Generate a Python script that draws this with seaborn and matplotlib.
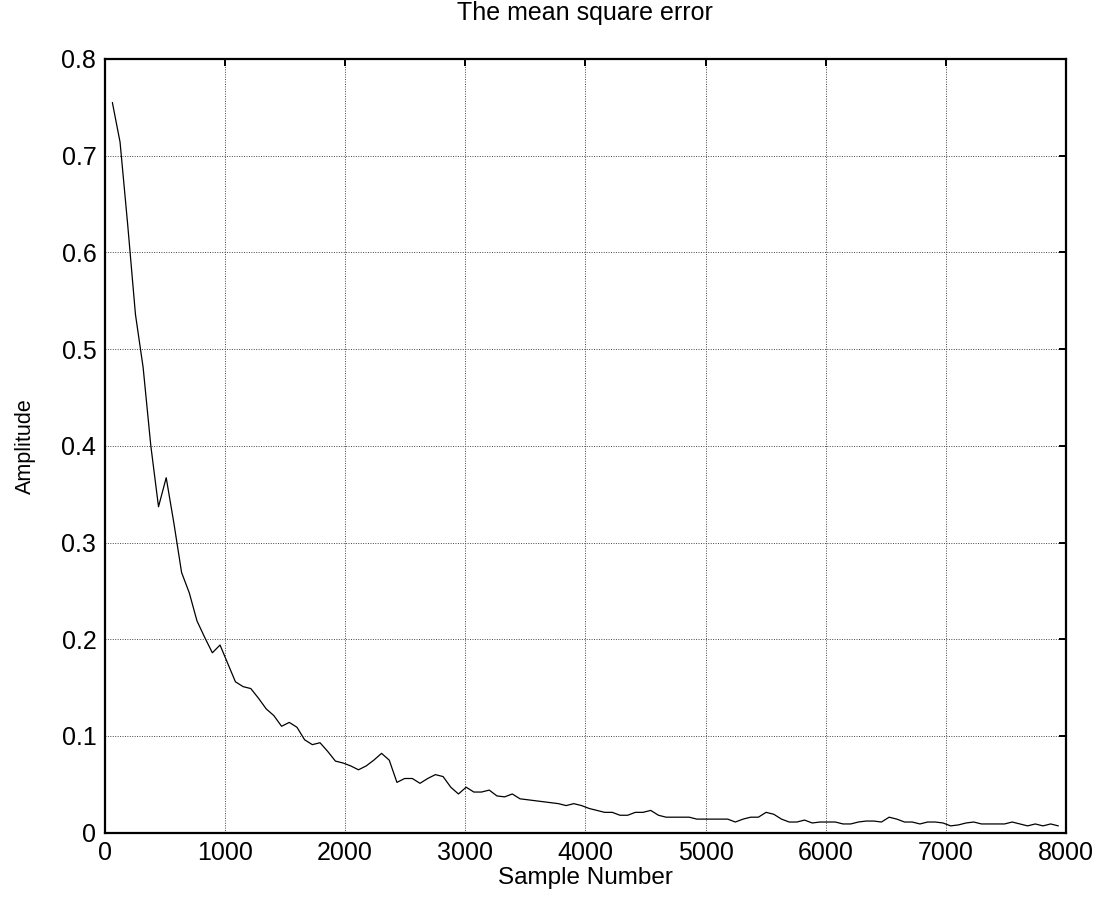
import matplotlib
matplotlib.use("Agg")
import matplotlib.pyplot as plt
import seaborn as sns
import pandas as pd

sample_step = 64
n_points = 124
sample_number = [sample_step * (i + 1) for i in range(n_points)]

mse = [
    0.755, 0.714, 0.628, 0.536, 0.481, 0.400, 0.337, 0.367, 0.320, 0.269,
    0.248, 0.219, 0.202, 0.186, 0.194, 0.175, 0.156, 0.151, 0.149, 0.139,
    0.128, 0.121, 0.110, 0.114, 0.109, 0.096, 0.091, 0.093, 0.084, 0.074,
    0.072, 0.069, 0.065, 0.069, 0.075, 0.082, 0.075, 0.052, 0.056, 0.056,
    0.051, 0.056, 0.060, 0.058, 0.047, 0.040, 0.047, 0.042, 0.042, 0.044,
    0.038, 0.037, 0.040, 0.035, 0.034, 0.033, 0.032, 0.031, 0.030, 0.028,
    0.030, 0.028, 0.025, 0.023, 0.021, 0.021, 0.018, 0.018, 0.021, 0.021,
    0.023, 0.018, 0.016, 0.016, 0.016, 0.016, 0.014, 0.014, 0.014, 0.014,
    0.014, 0.011, 0.014, 0.016, 0.016, 0.021, 0.019, 0.014, 0.011, 0.011,
    0.013, 0.010, 0.011, 0.011, 0.011, 0.009, 0.009, 0.011, 0.012, 0.012,
    0.011, 0.016, 0.014, 0.011, 0.011, 0.009, 0.011, 0.011, 0.010, 0.007,
    0.008, 0.010, 0.011, 0.009, 0.009, 0.009, 0.009, 0.011, 0.009, 0.007,
    0.009, 0.007, 0.009, 0.007,
]

x_ticks = [0, 1000, 2000, 3000, 4000, 5000, 6000, 7000, 8000]
y_ticks = [0, 0.1, 0.2, 0.3, 0.4, 0.5, 0.6, 0.7, 0.8]
y_tick_labels = ["0", "0.1", "0.2", "0.3", "0.4", "0.5", "0.6", "0.7", "0.8"]

title = "The mean square error"
x_label = "Sample Number"
y_label = "Amplitude"

df = pd.DataFrame({"Sample Number": sample_number, "Amplitude": mse})

sns.set_style("white")
plt.rcParams["font.family"] = ["Liberation Sans", "DejaVu Sans"]
plt.rcParams["text.color"] = "black"
plt.rcParams["axes.labelcolor"] = "black"

fig = plt.figure(figsize=(11.03, 9.13), dpi=100)
ax = fig.add_axes([0.0949, 0.0880, 0.9665 - 0.0949, 0.9354 - 0.0880])

sns.lineplot(data=df, x="Sample Number", y="Amplitude", ax=ax,
             color="black", linewidth=0.9)

ax.set_xlim(0, 8000)
ax.set_ylim(0, 0.8)
ax.set_xticks(x_ticks)
ax.set_xticklabels([str(t) for t in x_ticks])
ax.set_yticks(y_ticks)
ax.set_yticklabels(y_tick_labels)

ax.grid(True, linestyle=(0, (1, 1.5)), color="#444444", linewidth=0.7)
ax.tick_params(direction="in", length=5, width=1.4, top=True, right=True,
               labelsize=18, colors="black", pad=6)
for s in ax.spines.values():
    s.set_visible(True)
    s.set_color("black")
    s.set_linewidth(1.6)

ax.set_title(title, fontsize=18, pad=28, color="black")
ax.set_xlabel(x_label, fontsize=17.5, color="black")
ax.set_ylabel(y_label, fontsize=15.5, color="black")
ax.xaxis.set_label_coords(0.5, -0.044)
ax.yaxis.set_label_coords(-0.0715, 0.5)

fig.savefig("out.png", dpi=100)
